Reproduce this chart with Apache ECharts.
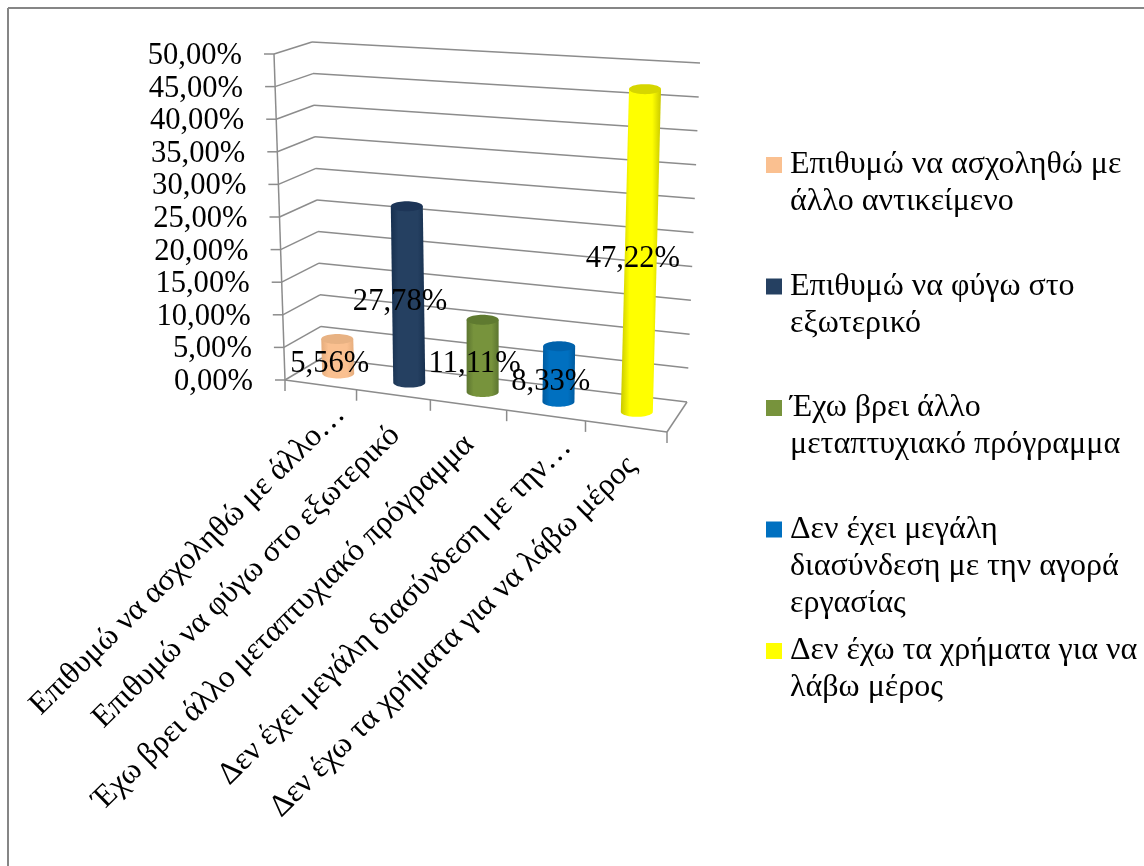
<!DOCTYPE html>
<html>
<head>
<meta charset="utf-8">
<style>html,body{margin:0;padding:0;background:#fff}#c{width:1144px;height:866px}</style>
<script src="https://cdn.jsdelivr.net/npm/echarts@6/dist/echarts.min.js"></script>
</head>
<body>
<div id="c"></div>
<script>
const seriesNames = [
  'Επιθυμώ να ασχοληθώ με άλλο αντικείμενο',
  'Επιθυμώ να φύγω στο εξωτερικό',
  'Έχω βρει άλλο μεταπτυχιακό πρόγραμμα',
  'Δεν έχει μεγάλη διασύνδεση με την αγορά εργασίας',
  'Δεν έχω τα χρήματα για να λάβω μέρος'
];
const categoryLabels = [
  'Επιθυμώ να ασχοληθώ με άλλο…',
  'Επιθυμώ να φύγω στο εξωτερικό',
  'Έχω βρει άλλο μεταπτυχιακό πρόγραμμα',
  'Δεν έχει μεγάλη διασύνδεση με την…',
  'Δεν έχω τα χρήματα για να λάβω μέρος'
];
const legendLines = [
  ['Επιθυμώ να ασχοληθώ με', 'άλλο αντικείμενο'],
  ['Επιθυμώ να φύγω στο', 'εξωτερικό'],
  ['Έχω βρει άλλο', 'μεταπτυχιακό πρόγραμμα'],
  ['Δεν έχει μεγάλη', 'διασύνδεση με την αγορά', 'εργασίας'],
  ['Δεν έχω τα χρήματα για να', 'λάβω μέρος']
];
const values = [5.56, 27.78, 11.11, 8.33, 47.22];
const yTicks = [0, 5, 10, 15, 20, 25, 30, 35, 40, 45, 50];
const sideColors = ['#FAC090', '#254061', '#77933C', '#0070C0', '#FFFF00'];
const edgeColors = ['#E5AC7C', '#17304F', '#5C7530', '#005A9E', '#C9C900'];
const capColors  = ['#E8B283', '#1D3557', '#5F7A30', '#0062AC', '#D6D600'];

const FONT = '"Liberation Serif", serif';
const fmt = v => v.toFixed(2).replace('.', ',') + '%';

/* view of the 3-D box: floor corners and the top offset of each vertical edge */
const floor = { fl: [285, 380], fr: [667, 432], bl: [322, 358], br: [687, 402] };
const rise  = { fl: [-11, -326], fr: [9, -349], bl: [-10, -316], br: [13, -339] };
const lerp = (a, b, t) => a + (b - a) * t;
const bi = (c, k, u, d) => lerp(lerp(c.fl[k], c.fr[k], u), lerp(c.bl[k], c.br[k], u), d);
const persp = t => t / (1 + 0.085 * (1 - t));
function project(t, d, h) {
  const u = persp(t);
  return [
    bi(floor, 0, u, d) + h * bi(rise, 0, u, d),
    bi(floor, 1, u, d) + h * bi(rise, 1, u, d)
  ];
}
const BAR_DEPTH = 0.5;
function projectBar(t, h) {
  const u = persp(t);
  return [
    bi(floor, 0, u, BAR_DEPTH) + h * bi(rise, 0, u, BAR_DEPTH),
    bi(floor, 1, u, BAR_DEPTH) - h * (306 + 40 * u)
  ];
}
const toT = (cs, px) => (px - cs.x) / cs.width;
const toH = (cs, py) => (cs.y + cs.height - py) / cs.height;

const GRID_STYLE = { stroke: '#8c8c8c', lineWidth: 1.5, fill: null };
const line = (a, b) => ({ type: 'line', shape: { x1: a[0], y1: a[1], x2: b[0], y2: b[1] }, style: GRID_STYLE });

function renderWall(params, api) {
  const cs = params.coordSys;
  const h = toH(cs, api.coord([0, api.value(0)])[1]);
  const fl = project(0, 0, h), bl = project(0, 1, h), br = project(1, 1, h);
  return { type: 'group', children: [
    line([fl[0] - 10, fl[1]], fl), line(fl, bl), line(bl, br)
  ] };
}
function renderFrame() {
  const fl0 = project(0, 0, 0), fl1 = project(0, 0, 1);
  const fr0 = project(1, 0, 0), br0 = project(1, 1, 0);
  return { type: 'group', children: [line(fl0, fl1), line(fl0, fr0), line(fr0, br0)] };
}
const labelNudge = [[20, 25], [2, 36], [1, 35], [21, 27], [6, 35]];
function renderCat(params, api) {
  const cs = params.coordSys;
  const i = api.value(0);
  const band = api.size([1, 0])[0];
  const c = api.coord([i, 0])[0];
  const p = project(toT(cs, c + band / 2), 0, 0);
  const children = [line(p, [p[0], p[1] + 11])];
  if (i === 0) { const q = project(0, 0, 0); children.push(line(q, [q[0], q[1] + 11])); }
  const m = project(toT(cs, c), 0, 0);
  children.push({
    type: 'text', rotation: 44.5 * Math.PI / 180,
    x: m[0] + labelNudge[i][0], y: m[1] + labelNudge[i][1],
    style: { text: categoryLabels[i], font: '31.5px ' + FONT, fill: '#000', align: 'right', verticalAlign: 'middle' }
  });
  return { type: 'group', children };
}

function renderBar(params, api) {
  const cs = params.coordSys;
  const i = api.value(0), v = api.value(1);
  const pTop = api.coord([i, v]);
  const t = toT(cs, pTop[0]);
  const h = toH(cs, pTop[1]);
  const base = projectBar(t, 0), top = projectBar(t, h);
  const rx = 16, ry = 5, n = 24;
  const side = [], cap = [];
  for (let k = 0; k <= n; k++) {           // lower half of the base, right to left
    const a = Math.PI * k / n;
    side.push([base[0] + rx * Math.cos(a), base[1] + ry * Math.sin(a)]);
  }
  side.push([top[0] - rx, top[1]], [top[0] + rx, top[1]]);
  for (let k = 0; k < 2 * n; k++) {
    const a = Math.PI * k / n;
    cap.push([top[0] + rx * Math.cos(a), top[1] + ry * Math.sin(a)]);
  }
  const s = params.seriesIndex - 3;
  return { type: 'group', children: [
    { type: 'polygon', shape: { points: side }, style: { fill: {
      type: 'linear', x: 0, y: 0, x2: 1, y2: 0, colorStops: [
        { offset: 0, color: edgeColors[s] }, { offset: 0.22, color: sideColors[s] },
        { offset: 0.78, color: sideColors[s] }, { offset: 1, color: edgeColors[s] }
      ] } } },
    { type: 'polygon', shape: { points: cap }, style: { fill: capColors[s] } }
  ] };
}
function renderLabel(params, api) {
  const cs = params.coordSys;
  const i = api.value(0), v = api.value(1);
  const pTop = api.coord([i, v]);
  const mid = projectBar(toT(cs, pTop[0]), toH(cs, pTop[1]) / 2);
  return { type: 'text', x: mid[0] - 8, y: mid[1] + 8,
    style: { text: fmt(v), font: '30.6px ' + FONT, fill: '#000', align: 'center', verticalAlign: 'middle' } };
}

const rich = {};
yTicks.forEach(v => {
  rich['v' + v] = { fontFamily: FONT, fontSize: 30.6, color: '#000', padding: [4, 11 * v / 50, 0, 0] };
});
const LINES = 5;
const legendText = {};
seriesNames.forEach((n, i) => {
  const l = legendLines[i];
  legendText[n] = ['', ''].concat(l, new Array(LINES - 2 - l.length).fill('')).join('\n');
});

const chart = echarts.init(document.getElementById('c'), null, { renderer: 'canvas' });
chart.setOption({
  animation: false,
  backgroundColor: '#fff',
  grid: { left: 285, width: 382, top: 54, height: 326, containLabel: false },
  xAxis: { type: 'category', data: categoryLabels, axisLabel: { show: false }, axisLine: { show: false }, axisTick: { show: false }, splitLine: { show: false } },
  yAxis: { type: 'value', min: 0, max: 50, interval: 5, splitLine: { show: false }, axisLine: { show: false }, axisTick: { show: false },
    axisLabel: { margin: 32, align: 'right', formatter: v => '{v' + v + '|' + fmt(v) + '}', rich } },
  legend: {
    data: seriesNames, orient: 'vertical', left: 766, top: 72.5, padding: 0,
    icon: 'rect', itemWidth: 16, itemHeight: 16, itemGap: -63.5, selectedMode: false,
    formatter: n => legendText[n],
    textStyle: { fontFamily: FONT, fontSize: 32, lineHeight: 37, color: '#000', padding: [0, 0, 0, 3] }
  },
  graphic: [
    { type: 'line', silent: true, shape: { x1: 8, y1: 8, x2: 1144, y2: 8 }, style: { stroke: '#868686', lineWidth: 2 } },
    { type: 'line', silent: true, shape: { x1: 8, y1: 8, x2: 8, y2: 866 }, style: { stroke: '#868686', lineWidth: 2 } }
  ],
  series: [
    { type: 'custom', name: 'wall', data: yTicks.map(v => [v]), encode: { y: 0 }, renderItem: renderWall, z: 1, silent: true },
    { type: 'custom', name: 'frame', data: [[0]], renderItem: renderFrame, z: 1, silent: true },
    { type: 'custom', name: 'cats', data: categoryLabels.map((_, i) => [i]), encode: { x: 0 }, renderItem: renderCat, z: 1, silent: true },
    ...seriesNames.map((n, i) => ({
      type: 'custom', name: n, data: [[i, values[i]]], encode: { x: 0, y: 1 },
      renderItem: renderBar, z: 2, itemStyle: { color: sideColors[i] }
    })),
    { type: 'custom', name: 'labels', data: values.map((v, i) => [i, v]), encode: { x: 0, y: 1 }, renderItem: renderLabel, z: 3, silent: true }
  ]
});
</script>
</body>
</html>
